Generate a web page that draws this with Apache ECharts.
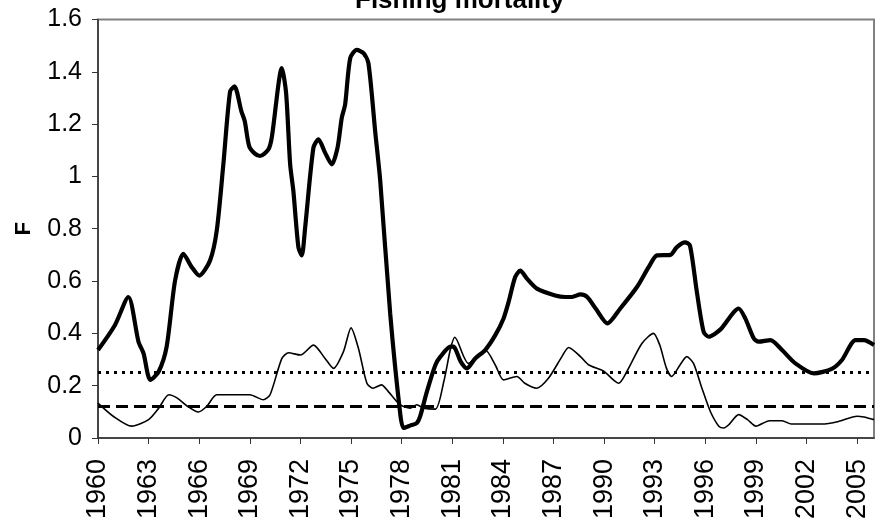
<!DOCTYPE html>
<html>
<head>
<meta charset="utf-8">
<script src="https://cdn.jsdelivr.net/npm/echarts@6/dist/echarts.min.js"></script>
<style>html,body{margin:0;padding:0;background:#fff;}#c{width:884px;height:522px;}</style>
</head>
<body>
<div id="c"></div>
<script>
var titleText = 'Fishing mortality';
var yName = 'F';
var xMin = 1960, xMax = 2006, xStep = 3;
var yTicks = [0, 0.2, 0.4, 0.6, 0.8, 1, 1.2, 1.4, 1.6];

var thickYears = [1960.0,1961.0,1961.8,1962.4,1962.7,1963.1,1963.6,1964.07,1964.57,1965.06,1965.56,1966.0,1966.64,1967.04,1967.43,1967.83,1968.09,1968.5,1968.7,1968.96,1969.3,1969.6,1970.1,1970.3,1970.9,1971.15,1971.39,1971.58,1971.88,1972.08,1972.28,1972.77,1973.07,1973.46,1973.86,1974.2,1974.45,1974.65,1974.95,1975.34,1975.74,1976.03,1976.43,1976.73,1977.32,1977.91,1978.11,1978.5,1978.9,1979.1,1979.5,1980.0,1980.3,1980.9,1981.07,1981.5,1981.87,1982.36,1982.95,1983.55,1984.04,1984.34,1984.73,1985.03,1985.43,1986.02,1987.1,1987.7,1988.1,1988.6,1989.0,1989.5,1990.2,1990.96,1991.95,1992.64,1993.14,1993.93,1994.3,1994.8,1995.09,1995.5,1995.9,1996.2,1996.9,1997.98,1998.37,1998.87,1999.16,1999.86,2000.55,2001.34,2002.43,2003.5,2004.1,2004.9,2005.4,2006.0];
var thickF = [0.336,0.431,0.539,0.368,0.323,0.222,0.254,0.349,0.602,0.704,0.653,0.621,0.678,0.793,1.046,1.325,1.344,1.249,1.211,1.116,1.087,1.078,1.103,1.148,1.414,1.319,1.046,0.945,0.729,0.698,0.805,1.110,1.142,1.091,1.046,1.110,1.224,1.275,1.452,1.484,1.471,1.433,1.173,0.983,0.476,0.095,0.038,0.047,0.057,0.083,0.178,0.279,0.311,0.349,0.349,0.292,0.266,0.304,0.336,0.393,0.457,0.520,0.615,0.640,0.609,0.571,0.545,0.539,0.539,0.549,0.539,0.495,0.438,0.495,0.577,0.653,0.698,0.700,0.729,0.748,0.736,0.558,0.406,0.387,0.415,0.495,0.457,0.381,0.368,0.374,0.336,0.285,0.247,0.264,0.298,0.374,0.374,0.355];

var thinYears = [1960.0,1960.9,1962.0,1963.0,1963.6,1964.2,1964.7,1965.3,1965.95,1966.45,1967.04,1969.0,1969.8,1970.2,1970.9,1971.3,1972.0,1972.77,1973.46,1973.96,1974.55,1975.0,1975.44,1975.94,1976.3,1976.8,1977.2,1977.9,1978.5,1978.9,1979.3,1980.0,1980.5,1980.9,1981.15,1981.96,1982.95,1983.55,1984.04,1984.83,1985.3,1986.0,1986.7,1987.5,1987.9,1988.6,1989.1,1989.96,1990.86,1991.35,1992.24,1992.93,1993.3,1993.7,1994.0,1994.5,1994.9,1995.3,1995.8,1996.3,1996.8,1997.1,1997.4,1997.98,1998.5,1999.0,1999.8,2000.55,2001.1,2002.9,2003.9,2005.0,2005.4,2006.0];
var thinF = [0.133,0.083,0.045,0.070,0.114,0.165,0.152,0.121,0.099,0.121,0.165,0.165,0.146,0.165,0.304,0.326,0.317,0.355,0.304,0.266,0.330,0.421,0.342,0.209,0.190,0.203,0.178,0.127,0.114,0.127,0.114,0.110,0.216,0.342,0.385,0.285,0.336,0.279,0.222,0.235,0.209,0.190,0.228,0.311,0.346,0.311,0.279,0.256,0.209,0.254,0.361,0.400,0.355,0.266,0.235,0.279,0.311,0.285,0.190,0.101,0.045,0.038,0.051,0.089,0.070,0.045,0.066,0.066,0.053,0.053,0.063,0.083,0.080,0.070];

var refYears = [1960, 2006];
var dottedRef = [0.25, 0.25];
var dashedRef = [0.12, 0.12];

function pairs(xs, ys) { return xs.map(function (x, i) { return [x, ys[i]]; }); }

var font = 'Liberation Sans, Arial, sans-serif';
var chart = echarts.init(document.getElementById('c'), null, {renderer: 'canvas'});
chart.setOption({
  animation: false,
  backgroundColor: '#ffffff',
  title: {
    text: titleText, left: 350, top: -17,
    textStyle: {fontFamily: font, fontSize: 26, fontWeight: 'bold', color: '#000'}
  },
  grid: {left: 98, right: 10, top: 19.5, bottom: 82, show: true, borderColor: '#808080', borderWidth: 2, backgroundColor: 'transparent'},
  xAxis: {
    type: 'value', min: xMin, max: xMax, interval: xStep,
    axisLine: {show: true, onZero: false, lineStyle: {color: '#333', width: 1.5}},
    axisTick: {show: true, inside: false, length: 6, lineStyle: {color: '#333'}},
    splitLine: {show: false},
    axisLabel: {rotate: 90, margin: 21, fontFamily: font, fontSize: 27, color: '#000',
      formatter: function (v) { return String(v); }}
  },
  yAxis: {
    type: 'value', min: yTicks[0], max: yTicks[yTicks.length - 1], interval: 0.2,
    name: yName, nameLocation: 'middle', nameGap: 63,
    nameTextStyle: {fontFamily: font, fontSize: 22, fontWeight: 'bold', color: '#000'},
    axisLine: {show: true, lineStyle: {color: '#333', width: 1.5}},
    axisTick: {show: true, length: 6, lineStyle: {color: '#333'}},
    splitLine: {show: false},
    axisLabel: {margin: 16, fontFamily: font, fontSize: 25, color: '#000',
      formatter: function (v) { return String(Math.round(v * 10) / 10); }}
  },
  series: [
    {type: 'line', data: pairs(refYears, dottedRef), symbol: 'none', silent: true,
      lineStyle: {color: '#000', width: 3, type: [3, 5]}},
    {type: 'line', data: pairs(refYears, dashedRef), symbol: 'none', silent: true,
      lineStyle: {color: '#000', width: 3, type: [12, 6]}},
    {type: 'line', data: pairs(thinYears, thinF), symbol: 'none', smooth: 0.25,
      lineStyle: {color: '#000', width: 1.6}},
    {type: 'line', data: pairs(thickYears, thickF), symbol: 'none', smooth: 0.25,
      lineStyle: {color: '#000', width: 4.2}}
  ]
});
</script>
</body>
</html>
